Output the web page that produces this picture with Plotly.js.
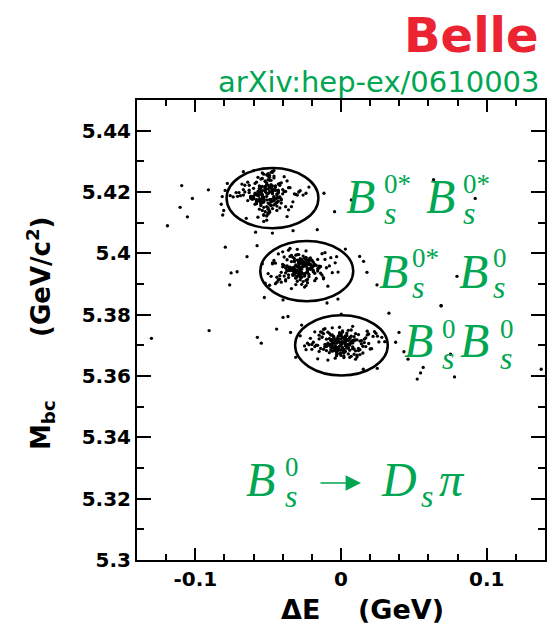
<!DOCTYPE html>
<html>
<head>
<meta charset="utf-8">
<script src="https://cdn.plot.ly/plotly-3.0.1.min.js"></script>
<style>html,body{margin:0;padding:0;background:#fff;}#chart{width:550px;height:628px;}</style>
</head>
<body>
<div id="chart"></div>
<script>
// ---- data ----
// Cluster B_s^0* B_s^0*
const dE_ss = [
-0.051,-0.047,-0.058,-0.043,-0.062,-0.049,-0.055,-0.039,-0.053,-0.045,
-0.060,-0.050,-0.044,-0.066,-0.052,-0.041,-0.057,-0.048,-0.035,-0.054,
-0.046,-0.063,-0.050,-0.042,-0.059,-0.053,-0.037,-0.056,-0.049,-0.070,
-0.044,-0.052,-0.061,-0.047,-0.033,-0.055,-0.050,-0.064,-0.043,-0.058,
-0.048,-0.040,-0.054,-0.067,-0.051,-0.045,-0.030,-0.057,-0.049,-0.060,
-0.053,-0.046,-0.072,-0.042,-0.056,-0.050,-0.038,-0.062,-0.047,-0.055,
-0.028,-0.051,-0.059,-0.044,-0.065,-0.048,-0.053,-0.041,-0.057,-0.036,
-0.050,-0.069,-0.045,-0.054,-0.031,-0.060,-0.047,-0.052,-0.043,-0.058,
-0.074,-0.049,-0.039,-0.055,-0.046,-0.063,-0.051,-0.026,-0.056,-0.044,
-0.052,-0.061,-0.048,-0.034,-0.057,-0.050,-0.068,-0.042,-0.054,-0.047,
-0.059,-0.045,-0.053,-0.024,-0.049,-0.064,-0.040,-0.056,-0.051,-0.071,
-0.043,-0.055,-0.048,-0.062,-0.037,-0.052,-0.058,-0.046,-0.032,-0.050,
-0.066,-0.054,-0.041,-0.057,-0.049,-0.029,-0.060,-0.045,-0.053,-0.076,
-0.047,-0.052,-0.063,-0.038,-0.056,-0.050,-0.044,-0.061,-0.022,-0.055,
-0.049,-0.058,-0.042,-0.067,-0.051,-0.036,-0.054,-0.046,-0.060,-0.048];
const Mbc_ss = [
5.4196,5.4210,5.4174,5.4226,5.4184,5.4160,5.4242,5.4202,5.4150,5.4218,
5.4180,5.4252,5.4166,5.4200,5.4136,5.4230,5.4188,5.4156,5.4214,5.4262,
5.4172,5.4206,5.4144,5.4222,5.4192,5.4124,5.4236,5.4178,5.4248,5.4198,
5.4154,5.4216,5.4186,5.4268,5.4168,5.4204,5.4132,5.4232,5.4182,5.4162,
5.4224,5.4194,5.4140,5.4208,5.4256,5.4176,5.4190,5.4118,5.4238,5.4212,
5.4170,5.4246,5.4198,5.4148,5.4220,5.4128,5.4202,5.4186,5.4264,5.4164,
5.4204,5.4152,5.4228,5.4180,5.4114,5.4214,5.4258,5.4174,5.4196,5.4142,
5.4240,5.4188,5.4162,5.4218,5.4192,5.4270,5.4146,5.4206,5.4170,5.4232,
5.4184,5.4138,5.4250,5.4200,5.4158,5.4222,5.4108,5.4190,5.4212,5.4166,
5.4234,5.4176,5.4264,5.4152,5.4202,5.4130,5.4226,5.4182,5.4244,5.4194,
5.4160,5.4216,5.4126,5.4196,5.4254,5.4172,5.4208,5.4144,5.4230,5.4186,
5.4206,5.4156,5.4238,5.4180,5.4120,5.4212,5.4168,5.4270,5.4194,5.4148,
5.4222,5.4192,5.4164,5.4248,5.4134,5.4200,5.4178,5.4220,5.4104,5.4188,
5.4170,5.4236,5.4198,5.4152,5.4210,5.4260,5.4140,5.4184,5.4216,5.4162,
5.4202,5.4174,5.4228,5.4190,5.4122,5.4214,5.4166,5.4252,5.4182,5.4156];
const dE_ssCore = [
-0.050,-0.046,-0.054,-0.048,-0.052,-0.044,-0.056,-0.049,-0.051,-0.047,
-0.053,-0.045,-0.058,-0.050,-0.042,-0.055,-0.048,-0.052,-0.046,-0.057,
-0.049,-0.051,-0.043,-0.054,-0.047,-0.059,-0.050,-0.045,-0.053,-0.048,
-0.056,-0.041,-0.052,-0.049,-0.055,-0.046,-0.060,-0.051,-0.044,-0.054,
-0.047,-0.053,-0.050,-0.057,-0.043,-0.049,-0.055,-0.046,-0.052,-0.048];
const Mbc_ssCore = [
5.4195,5.4182,5.4204,5.4176,5.4211,5.4190,5.4170,5.4216,5.4186,5.4200,
5.4178,5.4207,5.4192,5.4222,5.4184,5.4198,5.4168,5.4209,5.4180,5.4193,
5.4214,5.4174,5.4202,5.4188,5.4220,5.4196,5.4164,5.4205,5.4183,5.4212,
5.4190,5.4177,5.4218,5.4199,5.4172,5.4208,5.4186,5.4225,5.4194,5.4179,
5.4203,5.4167,5.4210,5.4189,5.4197,5.4175,5.4215,5.4185,5.4201,5.4171];

// Cluster B_s^0* B_s^0
const dE_s0 = [
-0.025,-0.031,-0.020,-0.036,-0.028,-0.017,-0.033,-0.023,-0.041,-0.027,
-0.014,-0.030,-0.038,-0.022,-0.026,-0.045,-0.019,-0.032,-0.029,-0.008,
-0.034,-0.024,-0.016,-0.040,-0.027,-0.021,-0.049,-0.030,-0.012,-0.035,
-0.028,-0.037,-0.023,-0.018,-0.032,-0.043,-0.026,-0.010,-0.029,-0.039,
-0.021,-0.033,-0.047,-0.025,-0.015,-0.031,-0.036,-0.024,-0.004,-0.028,
-0.042,-0.020,-0.030,-0.034,-0.013,-0.026,-0.052,-0.022,-0.032,-0.018,
-0.029,-0.038,-0.024,-0.006,-0.035,-0.027,-0.044,-0.019,-0.031,-0.025,
-0.016,-0.033,-0.040,-0.028,-0.022,-0.011,-0.037,-0.030,-0.046,-0.023,
-0.031,-0.026,-0.002,-0.039,-0.020,-0.034,-0.027,-0.050,-0.017,-0.029,
-0.036,-0.023,-0.030,-0.014,-0.042,-0.025,-0.032,-0.009,-0.028,-0.038,
-0.021,-0.048,-0.026,-0.033,-0.018,-0.029,-0.041,-0.024,-0.035,-0.012,
-0.030,-0.019,-0.037,-0.027,-0.054,-0.022,-0.031,-0.015,-0.043,-0.026,
-0.034,-0.007,-0.028,-0.039,-0.023,-0.032,-0.016,-0.045,-0.025,-0.030,
-0.020,-0.036,-0.011,-0.029,-0.040,-0.024,-0.033,-0.003,-0.027,-0.047,
-0.031,-0.022,-0.038,-0.026,-0.013,-0.035,-0.028,-0.019,-0.044,-0.024];
const Mbc_s0 = [
5.3962,5.3941,5.3978,5.3930,5.3955,5.3918,5.3987,5.3948,5.3906,5.3970,
5.3935,5.3996,5.3952,5.3924,5.3967,5.3901,5.3944,5.3983,5.3928,5.3959,
5.3973,5.3912,5.3950,5.4005,5.3938,5.3964,5.3896,5.3957,5.3921,5.3990,
5.3946,5.3979,5.3915,5.3961,5.3933,5.3998,5.3908,5.3953,5.3975,5.3926,
5.3985,5.3942,5.3966,5.3890,5.3958,5.3920,5.4010,5.3936,5.3969,5.3950,
5.3916,5.3976,5.3945,5.3993,5.3929,5.3960,5.3903,5.3982,5.3940,5.3964,
5.3954,5.3910,5.3987,5.3937,5.4016,5.3948,5.3922,5.3971,5.3898,5.3959,
5.3980,5.3932,5.3956,5.3914,5.3968,5.4002,5.3943,5.3926,5.3977,5.3951,
5.3919,5.3965,5.3939,5.3988,5.3952,5.3885,5.3974,5.3934,5.3961,5.3996,
5.3944,5.3972,5.3909,5.3957,5.3927,5.3984,5.3949,5.3893,5.3967,5.3936,
5.3963,5.3925,5.3991,5.3947,5.3911,5.3970,5.3938,5.4008,5.3955,5.3917,
5.3978,5.3940,5.3959,5.3899,5.3966,5.3931,5.3994,5.3952,5.3913,5.3972,
5.3946,5.3986,5.3923,5.3960,5.3904,5.3975,5.3942,5.3968,5.3929,5.4013,
5.3957,5.3921,5.3980,5.3937,5.3964,5.3895,5.3953,5.3989,5.3933,5.3969,
5.3940,5.3976,5.3914,5.3962,5.3999,5.3944,5.3927,5.3958,5.3906,5.3981];
const dE_s0Core = [
-0.027,-0.023,-0.031,-0.025,-0.029,-0.021,-0.033,-0.026,-0.028,-0.024,
-0.030,-0.022,-0.035,-0.027,-0.019,-0.032,-0.025,-0.029,-0.023,-0.034,
-0.026,-0.028,-0.020,-0.031,-0.024,-0.036,-0.027,-0.022,-0.030,-0.025,
-0.033,-0.018,-0.029,-0.026,-0.032,-0.023,-0.037,-0.028,-0.021,-0.031,
-0.024,-0.030,-0.027,-0.034,-0.020,-0.026,-0.032,-0.023,-0.029,-0.025];
const Mbc_s0Core = [
5.3953,5.3940,5.3962,5.3934,5.3969,5.3948,5.3928,5.3974,5.3944,5.3958,
5.3936,5.3965,5.3950,5.3980,5.3942,5.3956,5.3926,5.3967,5.3938,5.3951,
5.3972,5.3932,5.3960,5.3946,5.3978,5.3954,5.3922,5.3963,5.3941,5.3970,
5.3948,5.3935,5.3976,5.3957,5.3930,5.3966,5.3944,5.3983,5.3952,5.3937,
5.3961,5.3925,5.3968,5.3947,5.3955,5.3933,5.3973,5.3943,5.3959,5.3929];

// Cluster B_s^0 B_s^0
const dE_00 = [
0.001,-0.004,0.006,-0.010,0.003,-0.001,0.011,-0.007,0.004,-0.015,
-0.002,0.008,-0.012,0.000,0.015,-0.005,0.005,-0.019,0.002,0.010,
-0.008,0.003,-0.003,0.018,-0.011,0.007,-0.001,-0.022,0.013,-0.006,
0.004,-0.013,0.009,-0.002,0.021,-0.009,0.001,-0.016,0.006,-0.004,
0.012,-0.007,0.002,-0.025,0.008,-0.003,0.016,-0.011,0.000,0.025,
-0.006,0.005,-0.014,0.010,-0.001,0.019,-0.018,0.003,-0.009,0.007,
-0.003,0.014,-0.008,0.001,-0.021,0.011,-0.005,0.023,-0.012,0.004,
0.009,-0.016,0.002,-0.006,0.017,-0.002,-0.027,0.006,-0.010,0.013,
-0.001,0.020,-0.013,0.005,-0.004,0.028,-0.007,0.000,-0.017,0.010,
0.003,-0.011,0.015,-0.008,0.007,-0.023,0.002,-0.003,0.012,-0.014,
-0.005,0.009,-0.020,0.004,-0.002,0.017,-0.010,0.006,0.030,-0.007,
0.001,-0.015,0.011,-0.004,0.022,-0.008,0.005,-0.012,0.008,-0.001,
-0.009,0.004,-0.024,0.013,-0.003,0.007,-0.006,0.019,-0.013,0.002,
0.006,-0.002,0.016,-0.018,0.003,-0.007,0.010,-0.028,0.000,0.014,
-0.004,0.024,-0.010,0.002,-0.015,0.008,-0.001,0.012,-0.006,0.005,
0.018,-0.008,0.003,-0.020,0.009,-0.003,0.026,-0.011,0.001,-0.005];
const Mbc_00 = [
5.3712,5.3694,5.3726,5.3683,5.3705,5.3741,5.3668,5.3719,5.3697,5.3733,
5.3688,5.3716,5.3752,5.3701,5.3675,5.3729,5.3691,5.3710,5.3660,5.3738,
5.3722,5.3680,5.3707,5.3746,5.3695,5.3664,5.3731,5.3702,5.3686,5.3757,
5.3699,5.3727,5.3671,5.3714,5.3689,5.3743,5.3706,5.3656,5.3724,5.3692,
5.3735,5.3685,5.3711,5.3698,5.3762,5.3677,5.3720,5.3703,5.3667,5.3730,
5.3706,5.3749,5.3690,5.3718,5.3673,5.3737,5.3696,5.3725,5.3652,5.3709,
5.3681,5.3715,5.3739,5.3693,5.3723,5.3662,5.3708,5.3745,5.3687,5.3717,
5.3728,5.3700,5.3679,5.3734,5.3696,5.3713,5.3766,5.3684,5.3720,5.3670,
5.3711,5.3688,5.3742,5.3704,5.3658,5.3726,5.3694,5.3736,5.3701,5.3682,
5.3719,5.3754,5.3697,5.3676,5.3730,5.3707,5.3665,5.3721,5.3690,5.3744,
5.3692,5.3715,5.3703,5.3740,5.3684,5.3724,5.3698,5.3661,5.3712,5.3733,
5.3747,5.3680,5.3718,5.3695,5.3729,5.3702,5.3672,5.3738,5.3689,5.3710,
5.3700,5.3732,5.3686,5.3714,5.3669,5.3750,5.3693,5.3706,5.3727,5.3678,
5.3723,5.3691,5.3709,5.3744,5.3699,5.3716,5.3655,5.3731,5.3685,5.3705,
5.3688,5.3739,5.3697,5.3675,5.3721,5.3708,5.3759,5.3683,5.3714,5.3692,
5.3734,5.3702,5.3725,5.3687,5.3717,5.3666,5.3711,5.3696,5.3743,5.3720];
const dE_00Core = [
0.000,0.004,-0.004,0.002,-0.002,0.006,-0.006,0.001,-0.001,0.003,
-0.003,0.005,-0.008,0.000,0.008,-0.005,0.002,-0.002,0.004,-0.007,
0.001,-0.001,0.007,-0.004,0.003,-0.009,0.000,0.005,-0.003,0.002,
-0.006,0.009,-0.002,0.001,-0.005,0.004,-0.010,-0.001,0.006,-0.004,
0.003,-0.003,0.000,-0.007,0.007,0.001,-0.005,0.004,-0.002,0.002];
const Mbc_00Core = [
5.3706,5.3693,5.3715,5.3687,5.3722,5.3701,5.3681,5.3727,5.3697,5.3711,
5.3689,5.3718,5.3703,5.3733,5.3695,5.3709,5.3679,5.3720,5.3691,5.3704,
5.3725,5.3685,5.3713,5.3699,5.3731,5.3707,5.3675,5.3716,5.3694,5.3723,
5.3701,5.3688,5.3729,5.3710,5.3683,5.3719,5.3697,5.3736,5.3705,5.3690,
5.3714,5.3678,5.3721,5.3700,5.3708,5.3686,5.3726,5.3696,5.3712,5.3682];

// Scattered candidates outside the signal regions
const dE_bg = [
-0.1093,-0.0910,-0.1020,-0.1104,-0.1054,-0.1191,-0.0670,-0.0117,-0.0044,-0.0586,
-0.0471,-0.0329,-0.0163,-0.0815,-0.0822,-0.0805,-0.0795,-0.0812,-0.0780,-0.0794,
-0.0645,-0.0754,-0.0713,-0.0764,-0.0576,-0.0526,-0.0398,0.0128,0.0155,0.0178,
0.0247,-0.0096,-0.0021,0.0030,0.0071,0.0635,0.0921,0.0796,0.0686,-0.1301,
-0.0905,-0.0574,-0.0547,-0.0442,-0.0398,-0.0364,-0.0346,-0.0311,0.0002,0.0329,
0.0398,0.0375,0.0432,0.0460,0.0564,0.0546,0.0523,0.0688,0.0752,0.0779,
0.1374,0.0249,0.0153];
const Mbc_bg = [
5.4221,5.4207,5.4179,5.4150,5.4119,5.4090,5.4266,5.4196,5.4136,5.4069,
5.4066,5.4074,5.4077,5.4185,5.4160,5.4140,5.4205,5.4125,5.4228,5.4020,
5.3989,5.3936,5.3940,5.3897,5.4025,5.3856,5.3848,5.3990,5.3974,5.3938,
5.3897,5.3838,5.3851,5.4014,5.4174,5.4240,5.4179,5.3925,5.3829,5.3723,
5.3748,5.3726,5.3707,5.3753,5.3791,5.3794,5.3742,5.3661,5.3802,5.3805,
5.3742,5.3710,5.3679,5.3655,5.3628,5.3610,5.3590,5.3829,5.3671,5.3597,
5.3622,5.3625,5.3622];

// Signal-region ellipses (centre and half-axes, in dE / Mbc units)
const ellCx = [-0.047, -0.0235, 0.0003];
const ellCy = [5.4180, 5.3942, 5.3700];
const ellHx = [0.0315, 0.0319, 0.0318];
const ellHy = [0.0098, 0.0098, 0.0098];

// Axis ticks
const xTickVals = [-0.1, 0, 0.1];
const xTickText = ['-0.1', '0', '0.1'];
const yTickVals = [5.30, 5.32, 5.34, 5.36, 5.38, 5.40, 5.42, 5.44];
const yTickText = ['5.3', '5.32', '5.34', '5.36', '5.38', '5.4', '5.42', '5.44'];

// ---- drawing ----
const GREEN = '#00a651';
const RED = '#ec2330';
const L = 137, R = 545, T = 100, B = 560;
const px = v => (v - L) / (R - L);
const py = v => (B - v) / (B - T);

const sets = [[dE_ss, Mbc_ss], [dE_ssCore, Mbc_ssCore], [dE_s0, Mbc_s0], [dE_s0Core, Mbc_s0Core],
              [dE_00, Mbc_00], [dE_00Core, Mbc_00Core], [dE_bg, Mbc_bg]];
const traces = sets.map(s => ({
  type: 'scatter', mode: 'markers', x: s[0], y: s[1],
  marker: {size: 3.3, color: '#000'}, hoverinfo: 'skip', showlegend: false, cliponaxis: true
}));

const shapes = ellCx.map((cx, i) => ({
  type: 'circle', xref: 'x', yref: 'y',
  x0: cx - ellHx[i], x1: cx + ellHx[i], y0: ellCy[i] - ellHy[i], y1: ellCy[i] + ellHy[i],
  line: {color: '#000', width: 2.5}
}));

// math labels: big glyphs [text, left px, baseline px, italic]
const SERIF = 'Liberation Serif';
const bigGlyphs = [
  ['B',344,213,1],['B',424,213,1],
  ['B',377,288,1],['B',457,288,1],
  ['B',402,357,1],['B',458,357,1],
  ['B',244,496,1],['D',379,496,1],['\u03c0',437,496,1]
];
// stacked superscript / subscript: [sup, sub, left px, sup baseline px]
const stacks = [
  ['0*','s',382,193],['0*','s',461,193],
  ['0*','s',410,267],['0','s',491,267],
  ['0','s',440,338],['0','s',498,338],
  ['0','s',283,476],['','s',419,476]
];
const annotations = [];
bigGlyphs.forEach(g => annotations.push({
  xref: 'paper', yref: 'paper', x: px(g[1]), y: py(g[2] - 0.3375 * 48),
  xanchor: 'left', yanchor: 'middle', showarrow: false, text: g[0],
  font: {family: SERIF, size: 48, color: GREEN, style: g[3] ? 'italic' : 'normal'}
}));
stacks.forEach(s => annotations.push({
  xref: 'paper', yref: 'paper', x: px(s[2]), y: py(s[3] + 6.7),
  xanchor: 'left', yanchor: 'middle', align: 'left', showarrow: false,
  text: '<span style="font-size:27px">' + (s[0] || '\u00a0') + '</span><br>' +
        '<span style="font-size:32px"><i>' + s[1] + '</i></span>',
  font: {family: SERIF, size: 23.5, color: GREEN}
}));
// the "→" of the decay label
annotations.push({
  xref: 'paper', yref: 'paper', x: px(361), y: py(483), ax: -42, ay: 0,
  text: '', showarrow: true, arrowhead: 2, arrowsize: 2.2, arrowwidth: 1.4,
  arrowcolor: GREEN, standoff: 0, startstandoff: 0
});

const SANS = 'DejaVu Sans';
annotations.push(
  {xref:'paper', yref:'paper', x: px(541), y: py(52 - 0.346*48), xanchor:'right', yanchor:'middle',
   showarrow:false, text:'Belle', font:{family:SANS, size:48, color:RED, weight:'bold'}},
  {xref:'paper', yref:'paper', x: px(541), y: py(92 - 0.346*29), xanchor:'right', yanchor:'middle',
   showarrow:false, text:'arXiv:hep-ex/0610003', font:{family:SANS, size:29, color:GREEN}},
  {xref:'paper', yref:'paper', x: px(362), y: py(619 - 0.346*27), xanchor:'center', yanchor:'middle',
   showarrow:false, text:'\u0394E\u00a0\u00a0\u00a0\u00a0(GeV)', font:{family:SANS, size:27, color:'#000', weight:'bold'}},
  {xref:'paper', yref:'paper', x: px(40), y: py(334), xanchor:'center', yanchor:'middle', textangle:-90,
   showarrow:false, text:'M<sub>bc</sub>\u00a0\u00a0\u00a0\u00a0\u00a0\u00a0\u00a0(GeV/c<sup>2</sup>)',
   font:{family:SANS, size:26, color:'#000', weight:'bold'}}
);

const axisCommon = {
  showline: true, linewidth: 2, linecolor: '#000', mirror: 'allticks',
  ticks: 'inside', tickwidth: 2, tickcolor: '#000',
  showgrid: false, zeroline: false, tickmode: 'array',
  tickfont: {family: SANS, size: 20, color: '#000', weight: 'bold'}
};

const layout = {
  width: 550, height: 628,
  margin: {l: L, r: 550 - R, t: T, b: 628 - B},
  paper_bgcolor: '#fff', plot_bgcolor: '#fff',
  showlegend: false,
  xaxis: Object.assign({}, axisCommon, {
    range: [-0.14, 0.14], tickvals: xTickVals, ticktext: xTickText, ticklen: 12,
    minor: {dtick: 0.02, tick0: 0, ticks: 'inside', ticklen: 6, tickwidth: 2, tickcolor: '#000', showgrid: false}
  }),
  yaxis: Object.assign({}, axisCommon, {
    range: [5.30, 5.45], tickvals: yTickVals, ticktext: yTickText, ticklen: 14,
    minor: {dtick: 0.01, tick0: 5.3, ticks: 'inside', ticklen: 7, tickwidth: 2, tickcolor: '#000', showgrid: false}
  }),
  shapes: shapes,
  annotations: annotations
};

Plotly.newPlot('chart', traces, layout, {staticPlot: true, displayModeBar: false});
</script>
</body>
</html>
